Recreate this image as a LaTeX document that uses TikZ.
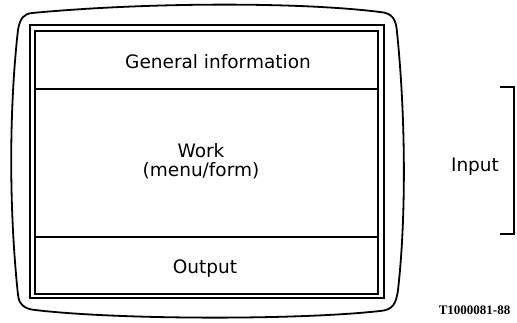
\documentclass[tikz,border=0pt]{standalone}
\usepackage{fontspec}
\setmainfont{DejaVu Sans}
\newfontfamily\refnofont{Liberation Serif}
\usepackage{tikz}
\usetikzlibrary{positioning}
\tikzset{
  x=1pt, y=-1pt,
  every node/.style={outer sep=0mm,inner sep=0mm,anchor=base},
  screen/.style={line width=1.8pt,line join=round},
  frame/.style={line width=1.5pt},
  divider/.style={line width=1.3pt},
  paneltext/.style={font=\fontsize{18.5}{19}\selectfont,align=center},
  refno/.style={font=\refnofont\bfseries\fontsize{13}{14}\selectfont}
}
\begin{document}
\begin{tikzpicture}
  \useasboundingbox (0,0) rectangle (517,323);

  % monitor outline
  \draw [screen] (32,13) .. controls (150,2) and (300,2) .. (380,12)
    .. controls (393,13) and (396,20) .. (397,32)
    .. controls (406,120) and (406,220) .. (398,290)
    .. controls (396,305) and (392,310) .. (380,311)
    .. controls (300,320) and (120,320) .. (35,310)
    .. controls (24,309) and (19,304) .. (18,295)
    .. controls (8,200) and (10,100) .. (18,30)
    .. controls (20,18) and (24,14) .. (32,13) -- cycle;

  % double frame
  \draw [frame] (30,25) rectangle (384,298);
  \draw [frame] (35,31) rectangle (378,294);
  \coordinate (DivTopL) at (35,89);
  \coordinate (DivTopR) at (378,89);
  \coordinate (DivBotL) at (35,237);
  \coordinate (DivBotR) at (378,237);
  \draw [divider] (DivTopL) -- (DivTopR);
  \draw [divider] (DivBotL) -- (DivBotR);

  \node (General) [paneltext] at (218,69)  {General information};
  \node (Work)    [paneltext] at (201,177) {Work\\(menu/form)};
  \node (Output)  [paneltext] at (205,273) {Output};

  % input bracket
  \node (Input) [paneltext] at (475,172) {Input};
  \coordinate (BrTop) at (500,87);
  \coordinate (BrBot) at (500,234);
  \draw [frame] (BrTop) -- ++(14,0) |- (BrBot);

  \node (RefNo) [refno] at (474.5,315) {T1000081-88};
\end{tikzpicture}
\end{document}
